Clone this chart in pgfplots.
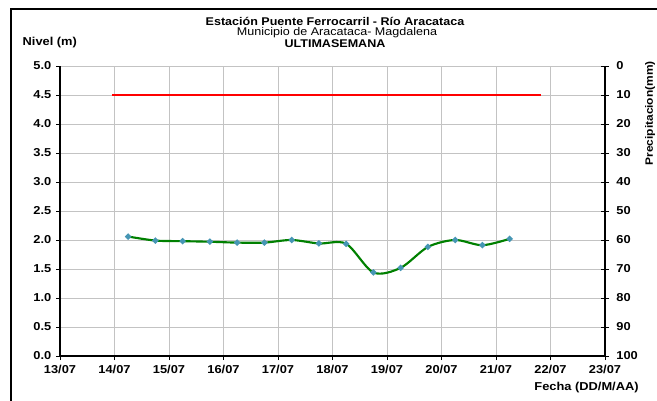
\documentclass[border=0pt]{standalone}
\usepackage{pgfplots}
\pgfplotsset{compat=1.18}
\usepackage{fontspec}
\setmainfont{Liberation Sans}
\newfontfamily\wide[FakeStretch=1.12]{Liberation Sans}
\definecolor{gridgray}{RGB}{195,195,195}
\definecolor{dkgreen}{RGB}{0,128,0}
\definecolor{markblue}{RGB}{70,150,180}
\begin{document}
\begin{tikzpicture}[x=1pt,y=1pt]
\useasboundingbox (0,0) rectangle (492.75,300);
\draw[line width=1.5pt] (8,-5) -- (8,293.25) -- (500,293.25);
\begin{axis}[
  at={(45pt,33pt)}, anchor=south west, scale only axis,
  width=408.75pt, height=217.5pt,
  xmin=0, xmax=10, ymin=0, ymax=5,
  xtick={0,...,10},
  xticklabels={13/07,14/07,15/07,16/07,17/07,18/07,19/07,20/07,21/07,22/07,23/07},
  ytick={0,0.5,...,5},
  yticklabel style={/pgf/number format/.cd,fixed,fixed zerofill,precision=1},
  /pgf/number format/assume math mode=true,
  ticklabel style={font=\wide\fontsize{8.6}{9}\selectfont\bfseries},
  grid=major, major grid style={gridgray, line width=0.6pt},
  axis x line*=bottom, axis y line*=left,
  tick align=outside, major tick length=3pt,
  tick style={black, line width=0.6pt},
  axis line style={line width=0.8pt},
  clip=false,
]
\addplot[red, line width=1.5pt, no marks] coordinates {(0.95,4.5) (8.83,4.5)};
\addplot[dkgreen, line width=1.6pt, smooth, mark=*, mark size=1.4pt,
  mark options={fill=markblue, draw=markblue}] coordinates {
(1.25,2.06) (1.75,1.99) (2.25,1.98) (2.75,1.97) (3.25,1.955) (3.75,1.955)
(4.25,2.00) (4.75,1.94) (5.25,1.935) (5.75,1.44) (6.25,1.52) (6.75,1.88)
(7.25,2.00) (7.75,1.91) (8.25,2.02)
};
\end{axis}
\begin{axis}[
  at={(45pt,33pt)}, anchor=south west, scale only axis,
  width=408.75pt, height=217.5pt,
  xmin=0, xmax=10, ymin=0, ymax=100, y dir=reverse,
  ytick={0,10,...,100},
  axis y line*=right, axis x line=none,
  tick align=center, major tick length=6pt,
  tick style={black, line width=0.6pt},
  axis line style={line width=0.8pt},
  /pgf/number format/assume math mode=true,
  yticklabel style={xshift=2pt},
  ticklabel style={font=\wide\fontsize{8.6}{9}\selectfont\bfseries},
]
\addplot[draw=none] coordinates {(0,0)};
\end{axis}
\node[font=\wide\fontsize{8.4}{9}\selectfont\bfseries] at (251.25,284) {Estación Puente Ferrocarril - Río Aracataca};
\node[font=\wide\fontsize{8.4}{9}\selectfont] at (252.75,275.75) {Municipio de Aracataca- Magdalena};
\node[font=\wide\fontsize{8.4}{9}\selectfont\bfseries] at (251.25,267.5) {ULTIMASEMANA};
\node[font=\wide\fontsize{8.6}{9}\selectfont\bfseries, anchor=west] at (13.5,267.75) {Nivel (m)};
\node[font=\wide\fontsize{8.6}{9}\selectfont\bfseries, anchor=east] at (482.5,9) {Fecha (DD/M/AA)};
\node[font=\wide\fontsize{8}{9}\selectfont\bfseries, rotate=90] at (487.5,215) {Precipitacion(mm)};
\end{tikzpicture}
\end{document}
